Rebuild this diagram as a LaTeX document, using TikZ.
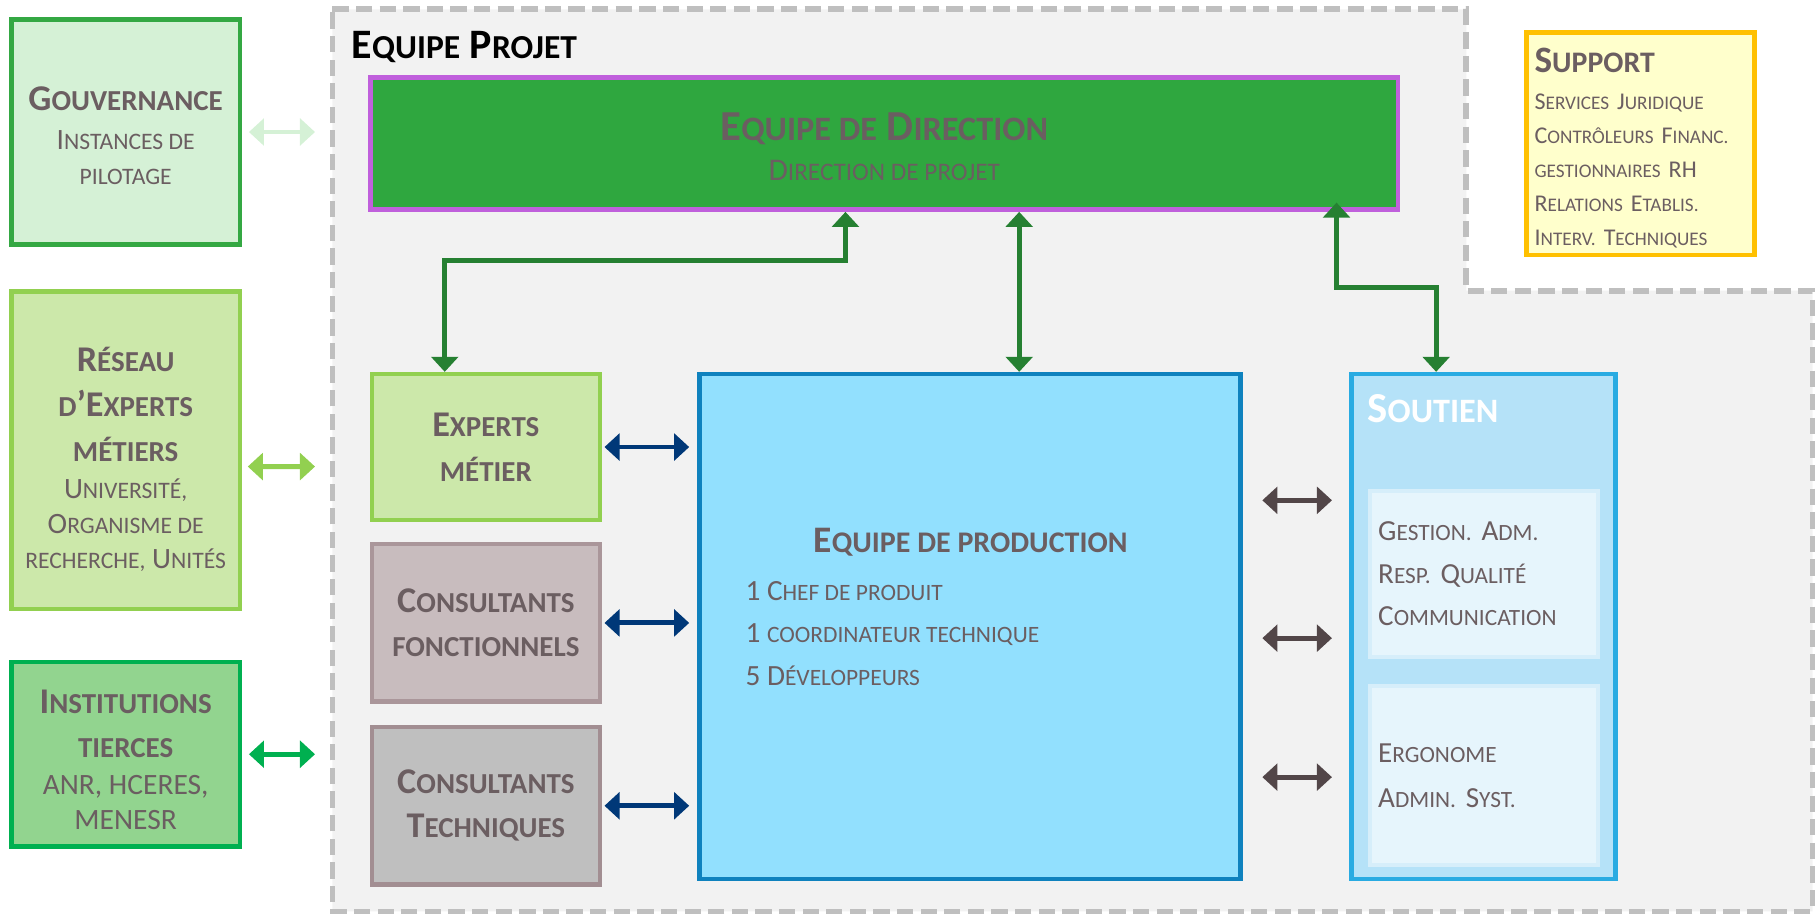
\documentclass[tikz,border=0pt]{standalone}
\usepackage{fontspec}
\setmainfont{Carlito}
\newfontfamily\scfont{Carlito}[Scale=0.8]
\usetikzlibrary{arrows.meta,positioning}

\definecolor{txtgray}{RGB}{107,94,97}
\definecolor{gouvfill}{RGB}{213,241,214}
\definecolor{gouvdraw}{RGB}{52,168,67}
\definecolor{resfill}{RGB}{204,232,170}
\definecolor{resdraw}{RGB}{146,208,80}
\definecolor{instfill}{RGB}{146,212,143}
\definecolor{instdraw}{RGB}{0,176,80}
\definecolor{projfill}{RGB}{242,242,242}
\definecolor{projdraw}{RGB}{191,191,191}
\definecolor{dirfill}{RGB}{47,167,63}
\definecolor{dirdraw}{RGB}{192,96,220}
\definecolor{cffill}{RGB}{200,188,190}
\definecolor{cfdraw}{RGB}{170,150,154}
\definecolor{ctfill}{RGB}{191,191,191}
\definecolor{ctdraw}{RGB}{162,142,146}
\definecolor{prodfill}{RGB}{146,224,254}
\definecolor{proddraw}{RGB}{15,130,190}
\definecolor{soutfill}{RGB}{181,226,248}
\definecolor{soutdraw}{RGB}{41,171,226}
\definecolor{innerfill}{RGB}{230,245,252}
\definecolor{innerdraw}{RGB}{214,238,250}
\definecolor{suppfill}{RGB}{255,255,204}
\definecolor{suppdraw}{RGB}{255,192,0}
\definecolor{linkgreen}{RGB}{38,128,50}
\definecolor{linknavy}{RGB}{0,56,120}
\definecolor{linkgray}{RGB}{82,70,72}

% petites capitales (Carlito n'en a pas)
\newcommand{\pc}[1]{{\scfont\MakeUppercase{#1}}}
\newcommand{\titlesize}{\fontsize{8.9}{8.6}\selectfont\bfseries}
\newcommand{\subsize}{\fontsize{7.25}{8.6}\selectfont}

\tikzset{
    box/.style={draw, line width=1.1pt, minimum width=1.97cm, inner sep=1pt,
        align=center, text=txtgray, font=\subsize},
    inbox/.style={draw, line width=1pt, minimum width=1.97cm, text width=1.83cm,
        inner xsep=0.07cm, align=left, text=txtgray},
    label/.style={inner sep=0pt, text=txtgray},
    link/.style={{Triangle[width=2.3mm,length=1.3mm]}-{Triangle[width=2.3mm,length=1.3mm]},
        line width=1.2pt},
}

\begin{document}
\frenchspacing
\begin{tikzpicture}
    \useasboundingbox (0,0) rectangle (15.68,7.91);
    % equipe projet
    \draw[projdraw, fill=projfill, line width=1.4pt, dash pattern=on 4pt off 1.8pt]
        (2.87,7.83) -- (12.66,7.83) -- (12.66,5.40) -- (15.65,5.40)
        -- (15.65,0.04) -- (2.87,0.04) -- cycle;
    \node[label, text=black, anchor=west, font=\fontsize{10.3}{12}\selectfont\bfseries] (projet)
        at (3.03,7.50) {E\pc{quipe} P\pc{rojet}};
    \coordinate (projedge) at (2.72,0);

    % partenaires externes
    \node[box, draw=gouvdraw, fill=gouvfill, minimum height=1.94cm] (gouv) at (1.085,6.77) {};
    \node[label, align=center, font=\subsize] (gouvtxt) at ([yshift=-0.03cm]gouv.center)
        {{\titlesize G\pc{ouvernance}}\\[0.9pt]
         I\pc{nstances de}\\ \pc{pilotage}};
    \node[box, draw=resdraw, fill=resfill, minimum height=2.74cm, below=0.37cm of gouv] (reseau) {};
    \node[label, align=center, font=\subsize] (reseautxt) at ([yshift=-0.08cm]reseau.center)
        {{\titlesize R\pc{éseau}}\\[2.4pt]
         {\titlesize \pc{d}’E\pc{xperts}}\\[2.4pt]
         {\titlesize \pc{métiers}}\\[0.7pt]
         U\pc{niversité,}\\ O\pc{rganisme de}\\ \pc{recherche,} U\pc{nités}};
    \node[box, draw=instdraw, fill=instfill, minimum height=1.59cm, below=0.42cm of reseau] (inst) {};
    \node[label, align=center, font=\subsize] (insttxt) at ([yshift=-0.045cm]inst.center)
        {{\titlesize I\pc{nstitutions}}\\[2.2pt]
         {\titlesize \pc{tierces}}\\[0.5pt]
         ANR, HCERES,\\ MENESR};
    \draw[link, gouvfill] ([xshift=0.6mm]gouv.east) -- (gouv.east -| projedge);
    \draw[link, resdraw] ([shift={(0.05,-0.14)}]reseau.east) -- ([yshift=-1.4mm]reseau.east -| projedge);
    \draw[link, instdraw] ([xshift=0.6mm]inst.east) -- (inst.east -| projedge);

    % direction
    \node[box, draw=dirdraw, fill=dirfill, minimum width=8.87cm, minimum height=1.14cm] (dir)
        at (7.635,6.67) {};
    \node[label, align=center, font=\fontsize{7.75}{9.8}\selectfont] (dirtxt)
        at ([yshift=-0.03cm]dir.center)
        {{\fontsize{10.5}{10}\selectfont\bfseries E\pc{quipe de} D\pc{irection}}\\
         D\pc{irection de projet}};

    % pole metier et conseil
    \node[box, draw=resdraw, fill=resfill, minimum height=1.26cm] (experts) at (4.195,4.05)
        {{\titlesize E\pc{xperts}}\\[2.4pt]{\titlesize \pc{métier}}};
    \node[box, draw=cfdraw, fill=cffill, minimum height=1.36cm, below=0.17cm of experts] (consfonc)
        {{\titlesize C\pc{onsultants}}\\[2.2pt]{\titlesize \pc{fonctionnels}}};
    \node[box, draw=ctdraw, fill=ctfill, minimum height=1.36cm, below=0.18cm of consfonc] (constech)
        {{\titlesize C\pc{onsultants}}\\[2.2pt]{\titlesize T\pc{echniques}}};

    % production
    \node[box, draw=proddraw, fill=prodfill, minimum width=4.67cm, minimum height=4.36cm] (prod)
        at (8.375,2.50) {};
    \node[label, font=\fontsize{9.2}{10}\selectfont\bfseries] (prodtitle) at (8.38,3.23)
        {E\pc{quipe de production}};
    \node[label, align=left, anchor=west, font=\fontsize{7.2}{10.5}\selectfont] (prodlist)
        at (6.43,2.44)
        {1 C\pc{hef de produit}\\ 1 \pc{coordinateur technique}\\ 5 D\pc{éveloppeurs}};

    % soutien
    \node[box, draw=soutdraw, fill=soutfill, minimum width=2.28cm, minimum height=4.36cm] (soutien)
        at (12.81,2.50) {};
    \node[label, anchor=west, text=white, font=\fontsize{10.5}{12}\selectfont\bfseries] (souttitle)
        at ([shift={(0.15,-0.32)}]soutien.north west) {S\pc{outien}};
    \node[inbox, draw=innerdraw, fill=innerfill, minimum height=1.43cm,
        font=\fontsize{7.15}{10.5}\selectfont] (gestion) at (12.815,2.955)
        {G\pc{estion.} A\pc{dm.}\\ R\pc{esp.} Q\pc{ualité}\\ C\pc{ommunication}};
    \node[inbox, draw=innerdraw, fill=innerfill, minimum height=1.55cm,
        font=\fontsize{7.15}{10.5}\selectfont] (ergo) at (12.815,1.215)
        {E\pc{rgonome}\\[0.5pt] A\pc{dmin.} S\pc{yst.}};

    % support
    \node[inbox, draw=suppdraw, fill=suppfill, line width=1.1pt, minimum height=1.92cm] (support)
        at (14.165,6.67) {};
    \node[label, text width=1.83cm, align=left, font=\fontsize{5.9}{8.35}\selectfont] (supptxt)
        at ([yshift=-0.04cm]support.center)
        {{\fontsize{9.15}{9}\selectfont\bfseries S\pc{upport}}\\[0.8pt]
         S\pc{ervices} J\pc{uridique}\\ C\pc{ontrôleurs} F\pc{inanc.}\\ \pc{gestionnaires} RH\\
         R\pc{elations} E\pc{tablis.}\\ I\pc{nterv.} T\pc{echniques}};

    % liens
    \draw[link, linkgreen] ([xshift=-3.55mm]experts.north) -- ++(0,0.96)
        -| ([xshift=-3.35mm]dir.south);
    \draw[link, linkgreen] ([xshift=4.25mm]prod.north) -- ([xshift=4.25mm]prod.north |- dir.south);
    \draw[link, linkgreen] ([xshift=-4.1mm]soutien.north) -- ++(0,0.73)
        -| ([shift={(3.905,0.08)}]dir.south);
    \foreach \nd in {experts,consfonc,constech}
        \draw[link, linknavy] ([xshift=0.2mm]\nd.east) -- ([xshift=-0.7mm]\nd.east -| prod.west);
    \foreach \dy in {1.09,-0.10,-1.30}
        \draw[link, linkgray] ([shift={(0.17,\dy)}]prod.east) -- ([shift={(-0.15,\dy)}]soutien.west);
\end{tikzpicture}
\end{document}
